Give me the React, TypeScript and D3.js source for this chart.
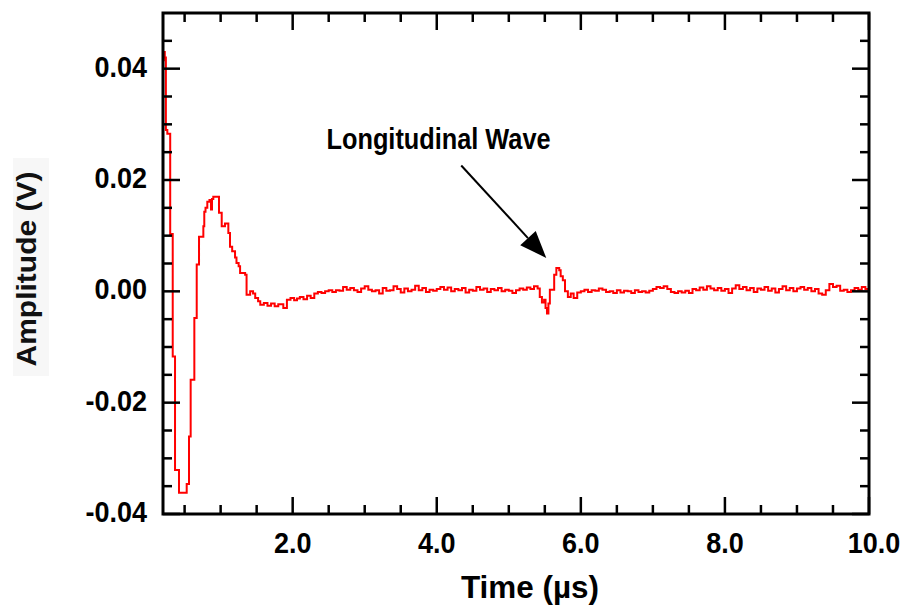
import React from "react";
import * as d3 from "d3";

// ---- data (time in µs, amplitude in V) ----
const pulseTimes = [
  0.2, 0.21, 0.225, 0.24, 0.26, 0.3, 0.335, 0.367, 0.422, 0.529, 0.561, 0.584, 0.635, 0.668,
  0.7, 0.76, 0.773, 0.79, 0.815, 0.845, 0.866, 0.88, 0.898, 0.977, 1.015, 1.06, 1.107, 1.13,
  1.16, 1.2, 1.22, 1.25, 1.27, 1.34, 1.36, 1.41, 1.45, 1.48, 1.52, 1.55, 1.6, 1.65, 1.7,
  1.75, 1.8, 1.87, 1.92, 1.97, 2.02, 2.06,
];
const pulseValues = [
  0.0415, 0.043, 0.042, 0.029, 0.0283, 0.0103, -0.0117, -0.0321, -0.0362, -0.0346, -0.0261, -0.0159, -0.0048, 0.0048,
  0.0098, 0.0117, 0.0143, 0.015, 0.0161, 0.0164, 0.0147, 0.0166, 0.017, 0.0141, 0.0117, 0.0122, 0.0105, 0.008,
  0.0072, 0.0061, 0.0051, 0.0045, 0.0033, 0.003, -0.0006, 0.0, -0.0004, -0.0012, -0.0018, -0.0024, -0.0021, -0.0026, -0.0022,
  -0.0027, -0.0023, -0.003, -0.0015, -0.0012, -0.0016, -0.0013,
];

const baseTimes = [
  2.1, 2.15, 2.2, 2.25, 2.3, 2.35, 2.4, 2.45, 2.5, 2.55, 2.6, 2.65, 2.7, 2.75, 2.8, 2.85, 2.9, 2.95,
  3.0, 3.05, 3.1, 3.15, 3.2, 3.25, 3.3, 3.35, 3.4, 3.45, 3.5, 3.55, 3.6, 3.65, 3.7, 3.75, 3.8, 3.85, 3.9, 3.95,
  4.0, 4.05, 4.1, 4.15, 4.2, 4.25, 4.3, 4.35, 4.4, 4.45, 4.5, 4.55, 4.6, 4.65, 4.7, 4.75, 4.8, 4.85, 4.9, 4.95,
  5.0, 5.05, 5.1, 5.15, 5.2, 5.25, 5.3, 5.35, 5.4,
  5.43, 5.46, 5.49, 5.51, 5.53, 5.55, 5.57, 5.63, 5.66, 5.7, 5.72, 5.75, 5.78, 5.82, 5.86, 5.9, 5.95,
  6.0, 6.05, 6.1, 6.15, 6.2, 6.25, 6.3, 6.35, 6.4, 6.45, 6.5, 6.55, 6.6, 6.65, 6.7, 6.75, 6.8, 6.85, 6.9, 6.95,
  7.0, 7.05, 7.1, 7.15, 7.2, 7.25, 7.3, 7.35, 7.4, 7.45, 7.5, 7.55, 7.6, 7.65, 7.7, 7.75, 7.8, 7.85, 7.9, 7.95,
  8.0, 8.05, 8.1, 8.15, 8.2, 8.25, 8.3, 8.35, 8.4, 8.45, 8.5, 8.55, 8.6, 8.65, 8.7, 8.75, 8.8, 8.85, 8.9, 8.95,
  9.0, 9.05, 9.1, 9.15, 9.2, 9.25, 9.3, 9.35, 9.4, 9.45, 9.5, 9.55, 9.6, 9.65, 9.7, 9.75, 9.8, 9.85, 9.9, 9.95, 10.0,
];
const baseValues = [
  -0.001, -0.0014, -0.0008, -0.0012, -0.0004, -0.0001, -0.0003, 0.0, 0.0002, -0.0001, 0.0002, 0.0001, 0.0008, 0.0003, 0.0006, 0.0002, -0.0001, 0.0005,
  0.0009, 0.0003, 0.0, 0.0002, -0.0004, 0.0006, 0.0001, 0.0002, 0.0009, 0.0004, -0.0002, 0.0005, 0.0, 0.0003, 0.001, 0.0002, 0.0006, -0.0001, 0.0003, 0.0001,
  0.0004, 0.0008, 0.0003, 0.0007, 0.0, 0.0004, 0.0002, 0.0006, -0.0002, 0.0003, 0.0001, 0.0008, 0.0003, 0.0005, -0.0001, 0.0004, 0.0002, 0.0006, 0.0, 0.0003,
  0.0001, -0.0003, 0.0002, 0.0005, 0.0003, 0.0007, 0.0004, 0.0009, 0.0005,
  -0.001, -0.002, -0.0015, -0.003, -0.004, -0.0022, 0.0003, 0.003, 0.0042, 0.0038, 0.0027, 0.002, 0.0, -0.001, -0.0004, -0.0012, -0.0002,
  0.0, 0.0003, -0.0001, 0.0002, 0.0001, 0.0005, 0.0003, -0.0001, 0.0, -0.0003, 0.0002, -0.0002, 0.0001, 0.0, -0.0003, 0.0002, -0.0001, 0.0, -0.0002, 0.0001,
  0.0004, 0.0008, 0.0006, 0.0009, 0.0004, -0.0001, -0.0003, 0.0, -0.0002, 0.0001, -0.0003, 0.0004, 0.0002, 0.0007, 0.0003, 0.0009, 0.0005, 0.0002, 0.0006, 0.0001,
  0.0004, -0.0003, 0.0005, 0.0011, 0.0004, 0.0008, 0.0002, 0.0006, -0.0001, 0.0005, 0.0003, 0.0008, 0.0001, 0.0005, -0.0002, 0.0004, 0.0009, 0.0002, 0.0006, 0.0,
  0.0005, 0.0008, 0.0003, 0.0006, 0.0, 0.0004, -0.0004, -0.0006, 0.0002, 0.0013, 0.0008, 0.001, 0.0001, 0.0003, -0.0001, 0.0002, 0.0006, 0.0003, 0.0008, 0.0004, 0.0005,
];

const xMajorTicks = [2, 4, 6, 8, 10];
const xTickLabels = ["2.0", "4.0", "6.0", "8.0", "10.0"];
const xMinorTicks = [0.5, 1, 1.5, 2.5, 3, 3.5, 4.5, 5, 5.5, 6.5, 7, 7.5, 8.5, 9, 9.5];
const yMajorTicks = [-0.04, -0.02, 0, 0.02, 0.04];
const yTickLabels = ["-0.04", "-0.02", "0.00", "0.02", "0.04"];
const yMinorTicks = [-0.035, -0.03, -0.025, -0.015, -0.01, -0.005, 0.005, 0.01, 0.015, 0.025, 0.03, 0.035, 0.045];

const annotationText = "Longitudinal Wave";
const annotationAt = [2.47, 0.0256];
const arrowFrom = [4.34, 0.0226];
const arrowTo = [5.52, 0.006];

const FONT = "'Liberation Sans', Arial, Helvetica, sans-serif";

// approximate advance widths (em) of bold sans glyphs used for tick labels
const glyphW: Record<string, number> = { "0": 0.556, "1": 0.556, "2": 0.556, "4": 0.556, "6": 0.556, "8": 0.556, ".": 0.278, "-": 0.333 };
const labelLen = (s: string, fs: number, k: number) =>
  s.split("").reduce((a, c) => a + (glyphW[c] ?? 0.556), 0) * fs * k;

export default function App() {
  const W = 905, H = 611;
  const L = 163, R = 869, T = 13, B = 514;
  const x = d3.scaleLinear().domain([0.2, 10]).range([L, R]);
  const y = d3.scaleLinear().domain([-0.04, 0.05]).range([B, T]);

  const pts: [number, number][] = [];
  pulseTimes.forEach((t, i) => pts.push([t, pulseValues[i]]));
  baseTimes.forEach((t, i) => pts.push([t, baseValues[i]]));
  const line = d3
    .line<[number, number]>()
    .x((d) => x(d[0]))
    .y((d) => y(d[1]))
    .curve(d3.curveStepAfter);

  const majorLen = 17, minorLen = 9, tickW = 2.5;

  // arrow geometry
  const ax0 = x(arrowFrom[0]), ay0 = y(arrowFrom[1]);
  const ax1 = x(arrowTo[0]), ay1 = y(arrowTo[1]);
  const dx = ax1 - ax0, dy = ay1 - ay0;
  const len = Math.hypot(dx, dy);
  const ux = dx / len, uy = dy / len;
  const headL = 27, headW = 10.5;
  const bx = ax1 - ux * headL, by = ay1 - uy * headL;
  const head = `M${ax1},${ay1} L${bx - uy * headW},${by + ux * headW} L${bx + uy * headW},${by - ux * headW} Z`;

  const tickFs = 30;

  return (
    <svg
      width={W}
      height={H}
      style={{ position: "absolute", left: 0, top: 0, background: "#fff" }}
      fontFamily={FONT}
      fontWeight="bold"
    >
      <rect x={0} y={0} width={W} height={H} fill="#fff" />
      {/* y title background */}
      <rect x={13} y={158} width={36} height={218} fill="#f7f7f7" />
      <text
        transform={`translate(36,269) rotate(-90)`}
        textAnchor="middle"
        fontSize={28}
        textLength={195}
        lengthAdjust="spacingAndGlyphs"
        fill="#111"
      >
        Amplitude (V)
      </text>

      {/* data line */}
      <path d={line(pts) || ""} fill="none" stroke="#ff0000" strokeWidth={2} strokeLinejoin="miter" />

      {/* ticks */}
      <g stroke="#000" strokeWidth={tickW}>
        {xMajorTicks.map((t) => (
          <g key={"xM" + t}>
            <line x1={x(t)} x2={x(t)} y1={B} y2={B - majorLen} />
            <line x1={x(t)} x2={x(t)} y1={T} y2={T + majorLen} />
          </g>
        ))}
        {xMinorTicks.map((t) => (
          <g key={"xm" + t}>
            <line x1={x(t)} x2={x(t)} y1={B} y2={B - minorLen} />
            <line x1={x(t)} x2={x(t)} y1={T} y2={T + minorLen} />
          </g>
        ))}
        {yMajorTicks.map((v) => (
          <g key={"yM" + v}>
            <line x1={L} x2={L + majorLen} y1={y(v)} y2={y(v)} />
            <line x1={R} x2={R - majorLen} y1={y(v)} y2={y(v)} />
          </g>
        ))}
        {yMinorTicks.map((v) => (
          <g key={"ym" + v}>
            <line x1={L} x2={L + minorLen} y1={y(v)} y2={y(v)} />
            <line x1={R} x2={R - minorLen} y1={y(v)} y2={y(v)} />
          </g>
        ))}
      </g>

      {/* frame */}
      <rect x={L} y={T} width={R - L} height={B - T} fill="none" stroke="#000" strokeWidth={3} />

      {/* tick labels */}
      {yMajorTicks.map((v, i) => (
        <text
          key={"yl" + v}
          x={147}
          y={y(v) + 8}
          textAnchor="end"
          fontSize={tickFs}
          textLength={labelLen(yTickLabels[i], tickFs, 0.9)}
          lengthAdjust="spacingAndGlyphs"
          fill="#000"
        >
          {yTickLabels[i]}
        </text>
      ))}
      {xMajorTicks.map((t, i) => (
        <text
          key={"xl" + t}
          x={x(t) + (i === xMajorTicks.length - 1 ? 5 : 0)}
          y={553}
          textAnchor="middle"
          fontSize={tickFs}
          textLength={labelLen(xTickLabels[i], tickFs, 0.9)}
          lengthAdjust="spacingAndGlyphs"
          fill="#000"
        >
          {xTickLabels[i]}
        </text>
      ))}

      {/* x title */}
      <text x={530} y={598} textAnchor="middle" fontSize={31} textLength={138} lengthAdjust="spacingAndGlyphs" fill="#000">
        Time (µs)
      </text>

      {/* annotation */}
      <text
        x={x(annotationAt[0])}
        y={y(annotationAt[1])}
        fontSize={29}
        textLength={224}
        lengthAdjust="spacingAndGlyphs"
        fill="#000"
      >
        {annotationText}
      </text>
      <line x1={ax0} y1={ay0} x2={bx} y2={by} stroke="#000" strokeWidth={2} />
      <path d={head} fill="#000" />
    </svg>
  );
}
